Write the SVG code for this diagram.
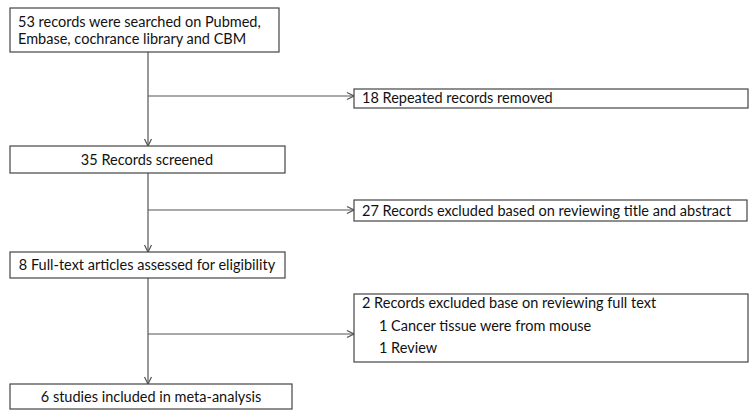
<svg xmlns="http://www.w3.org/2000/svg" width="755" height="415" viewBox="0 0 755 415">
<style>
.box{fill:#fff;stroke:#444;stroke-width:1.2}
.t{font-family:Lato,"Liberation Sans",Arial,sans-serif;font-size:14.5px;fill:#111}
.c{fill:none;stroke:#555;stroke-width:1.2}
</style>
<defs>
<marker id="ah" markerWidth="10" markerHeight="10" refX="9" refY="5" orient="auto" markerUnits="userSpaceOnUse">
<path d="M2,1.5 L9,5 L2,8.5" fill="none" stroke="#555" stroke-width="1.2"/>
</marker>
</defs>
<rect width="755" height="415" fill="#fff"/>
<g id="connectors">
<line class="c" x1="148" y1="52" x2="148" y2="146" marker-end="url(#ah)"/>
<line class="c" x1="148" y1="96" x2="354" y2="96" marker-end="url(#ah)"/>
<line class="c" x1="148" y1="173" x2="148" y2="252" marker-end="url(#ah)"/>
<line class="c" x1="148" y1="210" x2="354" y2="210" marker-end="url(#ah)"/>
<line class="c" x1="148" y1="278" x2="148" y2="384" marker-end="url(#ah)"/>
<line class="c" x1="148" y1="334" x2="354" y2="334" marker-end="url(#ah)"/>
</g>
<g id="n1">
<rect class="box" x="10" y="8" width="269" height="44"/>
<text class="t" x="18" y="27">53 records were searched on Pubmed,</text>
<text class="t" x="18" y="43.5">Embase, cochrance library and CBM</text>
</g>
<g id="n2">
<rect class="box" x="354" y="89" width="394" height="19"/>
<text class="t" x="362" y="103">18 Repeated records removed</text>
</g>
<g id="n3">
<rect class="box" x="10" y="146" width="275" height="27"/>
<text class="t" x="147" y="164.5" text-anchor="middle">35 Records screened</text>
</g>
<g id="n4">
<rect class="box" x="354" y="200" width="393" height="21"/>
<text class="t" x="362" y="215.5">27 Records excluded based on reviewing title and abstract</text>
</g>
<g id="n5">
<rect class="box" x="10" y="252" width="275" height="26"/>
<text class="t" x="147" y="270" text-anchor="middle">8 Full-text articles assessed for eligibility</text>
</g>
<g id="n6">
<rect class="box" x="354" y="294" width="394" height="68"/>
<text class="t" x="362" y="308">2 Records excluded base on reviewing full text</text>
<text class="t" x="379" y="331">1 Cancer tissue were from mouse</text>
<text class="t" x="379" y="353">1 Review</text>
</g>
<g id="n7">
<rect class="box" x="10" y="384" width="282" height="25"/>
<text class="t" x="151" y="401.5" text-anchor="middle">6 studies included in meta-analysis</text>
</g>
</svg>
